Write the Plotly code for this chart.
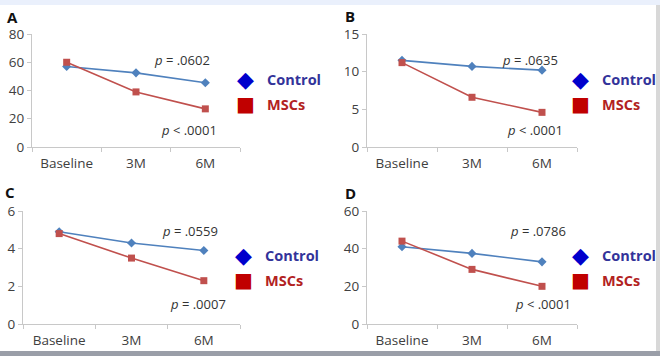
import plotly.graph_objects as go

categories = ["Baseline", "3M", "6M"]
panel_labels = ["A", "B", "C", "D"]
control_vals = [
    [57, 52.5, 45.5],
    [11.5, 10.7, 10.2],
    [4.9, 4.3, 3.9],
    [41, 37.5, 33],
]
mscs_vals = [
    [60, 39, 27],
    [11.2, 6.6, 4.6],
    [4.8, 3.5, 2.3],
    [44, 29, 20],
]
y_max = [80, 15, 6, 60]
y_dtick = [20, 5, 2, 20]
p_control = ["<i>p</i> = .0602", "<i>p</i> = .0635", "<i>p</i> = .0559", "<i>p</i> = .0786"]
p_mscs = ["<i>p</i> < .0001", "<i>p</i> < .0001", "<i>p</i> = .0007", "<i>p</i> < .0001"]

W, H = 660, 356
# pixel layout of each panel: (x0, x1, ytop, ybottom)
boxes = [
    (32, 240, 34, 147),
    (367, 577, 34, 147),
    (23, 240, 211, 324),
    (367, 577, 211, 324),
]
letter_pos = [(5, 17), (343, 16), (3, 192), (343, 193)]
pc_pos = [(212, 60), (560, 60), (220, 231), (568, 231)]
pm_pos = [(219, 130), (565, 130), (228, 304), (573, 304)]
legend_pos = [(245, 79), (580, 79), (243, 255), (580, 255)]

CTRL_LINE = "#4F81BD"
MSC_LINE = "#C0504D"
FONT = "Open Sans"
AX = "#C8C8C8"
TXT = "#404040"


def px(x):
    return x / W


def py(y):
    return 1 - y / H


fig = go.Figure()
annotations = []
for i in range(4):
    x0, x1, yt, yb = boxes[i]
    xa = "x" if i == 0 else f"x{i+1}"
    ya = "y" if i == 0 else f"y{i+1}"
    fig.add_trace(go.Scatter(
        x=categories, y=control_vals[i], mode="lines+markers",
        line=dict(color=CTRL_LINE, width=1.6),
        marker=dict(symbol="diamond", size=7, color=CTRL_LINE),
        xaxis=xa, yaxis=ya, showlegend=False, cliponaxis=False))
    fig.add_trace(go.Scatter(
        x=categories, y=mscs_vals[i], mode="lines+markers",
        line=dict(color=MSC_LINE, width=1.6),
        marker=dict(symbol="square", size=7, color=MSC_LINE),
        xaxis=xa, yaxis=ya, showlegend=False, cliponaxis=False))
    axis_common = dict(showline=True, linecolor=AX, linewidth=1, ticks="outside",
                       tickcolor=AX, ticklen=4, showgrid=False, zeroline=False,
                       automargin=False,
                       tickfont=dict(family=FONT, size=13.5, color=TXT))
    fig.update_layout(**{
        ("xaxis" if i == 0 else f"xaxis{i+1}"): dict(
            domain=[px(x0), px(x1)], anchor=ya, type="category",
            tickson="boundaries", range=[-0.5, 2.5], ticklabelstandoff=4,
            **axis_common),
        ("yaxis" if i == 0 else f"yaxis{i+1}"): dict(
            domain=[py(yb), py(yt)], anchor=xa, range=[0, y_max[i]],
            dtick=y_dtick[i], **axis_common),
    })
    lx, ly = letter_pos[i]
    annotations.append(dict(x=px(lx), y=py(ly), xref="paper", yref="paper",
                            text=f"<b>{panel_labels[i]}</b>", showarrow=False,
                            xanchor="left", yanchor="middle",
                            font=dict(family=FONT, size=15, color="#111111")))
    cx, cy = pc_pos[i]
    annotations.append(dict(x=px(cx), y=py(cy), xref="paper", yref="paper",
                            text=p_control[i], showarrow=False, xanchor="right",
                            yanchor="middle", font=dict(family=FONT, size=13, color="#333333")))
    mx, my = pm_pos[i]
    annotations.append(dict(x=px(mx), y=py(my), xref="paper", yref="paper",
                            text=p_mscs[i], showarrow=False, xanchor="right",
                            yanchor="middle", font=dict(family=FONT, size=13, color="#333333")))
    gx, gy = legend_pos[i]
    annotations.append(dict(x=px(gx), y=py(gy), xref="paper", yref="paper",
                            text="◆", showarrow=False, xanchor="center", yanchor="middle",
                            font=dict(family="DejaVu Sans", size=22, color="#0000CC")))
    annotations.append(dict(x=px(gx + 20), y=py(gy), xref="paper", yref="paper",
                            text="<b>Control</b>", showarrow=False, xanchor="left", yanchor="middle",
                            font=dict(family=FONT, size=14.5, color="#33339A")))
    annotations.append(dict(x=px(gx), y=py(gy + 25), xref="paper", yref="paper",
                            text="■", showarrow=False, xanchor="center", yanchor="middle",
                            font=dict(family="DejaVu Sans", size=20, color="#C00000")))
    annotations.append(dict(x=px(gx + 20), y=py(gy + 25), xref="paper", yref="paper",
                            text="<b>MSCs</b>", showarrow=False, xanchor="left", yanchor="middle",
                            font=dict(family=FONT, size=14.5, color="#B22222")))

shapes = [
    dict(type="rect", xref="paper", yref="paper", x0=0, x1=1, y0=py(5), y1=1,
         fillcolor="#EAF0FC", line=dict(width=0), layer="above"),
    dict(type="rect", xref="paper", yref="paper", x0=0, x1=1, y0=0, y1=py(351),
         fillcolor="#9A9EA8", line=dict(width=0), layer="above"),
    dict(type="rect", xref="paper", yref="paper", x0=px(656), x1=1, y0=py(351), y1=py(5),
         fillcolor="#D8D8D8", line=dict(width=0), layer="above"),
]

fig.update_layout(width=W, height=H, margin=dict(l=0, r=0, t=0, b=0, pad=0),
                  paper_bgcolor="white", plot_bgcolor="white",
                  annotations=annotations, shapes=shapes, showlegend=False)
fig.write_html("out.html", config={"displayModeBar": False},
               post_script="document.body.style.margin='0px';"
                           "document.body.style.overflow='hidden';")
